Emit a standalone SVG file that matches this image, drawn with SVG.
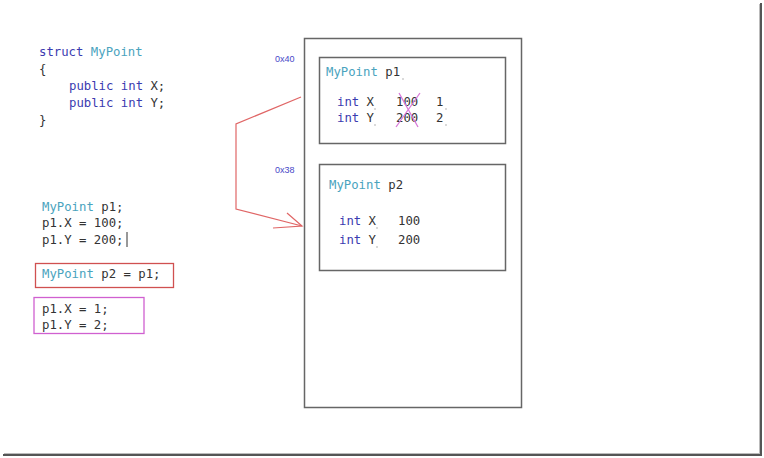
<svg xmlns="http://www.w3.org/2000/svg" width="764" height="458" viewBox="0 0 764 458">
<defs>
<style>
.code{font-family:"DejaVu Sans Mono","Liberation Mono",monospace;font-size:12.3px;fill:#333;}
.kw{fill:#3b3bb0;}
.ty{fill:#4aa3be;}
.addr{font-family:"Liberation Sans",Arial,sans-serif;font-size:9px;fill:#4848c8;}
.box{fill:none;stroke:#666;stroke-width:1.5;}
.dot{fill:#aaa;}
</style>
</defs>
<rect x="0" y="0" width="764" height="458" fill="#fff"/>
<g id="frame">
<line x1="761" y1="3" x2="761" y2="456" stroke="#555" stroke-width="2"/>
<line x1="3" y1="455" x2="762" y2="455" stroke="#555" stroke-width="2"/>
<line x1="759.5" y1="4" x2="759.5" y2="454" stroke="#bbb" stroke-width="1"/>
<line x1="4" y1="453.5" x2="760" y2="453.5" stroke="#bbb" stroke-width="1"/>
</g>
<g id="struct-code" class="code">
<text x="39" y="56"><tspan class="kw">struct</tspan> <tspan class="ty">MyPoint</tspan></text>
<text x="39" y="73">{</text>
<text x="69" y="90"><tspan class="kw">public</tspan> <tspan class="kw">int</tspan> X;</text>
<text x="69" y="107"><tspan class="kw">public</tspan> <tspan class="kw">int</tspan> Y;</text>
<text x="39" y="124">}</text>
</g>
<g id="init-code" class="code">
<text x="42" y="211"><tspan class="ty">MyPoint</tspan> p1;</text>
<text x="42" y="227">p1.X = 100;</text>
<text x="42" y="244">p1.Y = 200;</text>
<line x1="127" y1="232" x2="127" y2="247" stroke="#333" stroke-width="1"/>
</g>
<g id="copy-stmt">
<rect x="35.5" y="263.5" width="138" height="24" fill="none" stroke="#d05050" stroke-width="1.3"/>
<text class="code" x="42" y="278"><tspan class="ty">MyPoint</tspan> p2 = p1;</text>
</g>
<g id="assign-stmt">
<rect x="34" y="297.5" width="110" height="36" fill="none" stroke="#d060d0" stroke-width="1.3"/>
<text class="code" x="42" y="313">p1.X = 1;</text>
<text class="code" x="42" y="329">p1.Y = 2;</text>
</g>
<g id="memory">
<rect class="box" x="304.5" y="38.5" width="217" height="369"/>
</g>
<g id="addr-labels">
<text class="addr" x="275" y="62">0x40</text>
<text class="addr" x="275" y="173">0x38</text>
</g>
<g id="p1-box">
<rect class="box" x="319.5" y="57.5" width="186" height="86"/>
<text class="code" x="326" y="76"><tspan class="ty">MyPoint</tspan> p1</text>
<text class="code" x="337" y="106"><tspan class="kw">int</tspan> X</text>
<text class="code" x="337" y="122"><tspan class="kw">int</tspan> Y</text>
<text class="code" x="396" y="106">100</text>
<text class="code" x="396" y="122">200</text>
<text class="code" x="436" y="106">1</text>
<text class="code" x="436" y="122">2</text>
<circle class="dot" cx="403" cy="79" r="0.8"/>
<circle class="dot" cx="375" cy="109" r="0.8"/>
<circle class="dot" cx="375" cy="125" r="0.8"/>
<circle class="dot" cx="446" cy="109" r="0.8"/>
<circle class="dot" cx="446" cy="125" r="0.8"/>
<line x1="399" y1="93" x2="418" y2="127" stroke="#d878d8" stroke-width="1.3"/>
<line x1="420" y1="93" x2="396" y2="127" stroke="#d878d8" stroke-width="1.3"/>
</g>
<g id="p2-box">
<rect class="box" x="319.5" y="164.5" width="186" height="106"/>
<text class="code" x="329" y="189"><tspan class="ty">MyPoint</tspan> p2</text>
<text class="code" x="339" y="225"><tspan class="kw">int</tspan> X</text>
<text class="code" x="339" y="244"><tspan class="kw">int</tspan> Y</text>
<text class="code" x="398" y="225">100</text>
<text class="code" x="398" y="244">200</text>
<circle class="dot" cx="377" cy="228" r="0.8"/>
<circle class="dot" cx="377" cy="247" r="0.8"/>
</g>
<g id="connectors" fill="none" stroke="#e06666" stroke-width="1.2">
<polyline points="301,97 236,124 236,209 302,226"/>
<polyline points="287,213 302,226 273,228"/>
</g>
</svg>
